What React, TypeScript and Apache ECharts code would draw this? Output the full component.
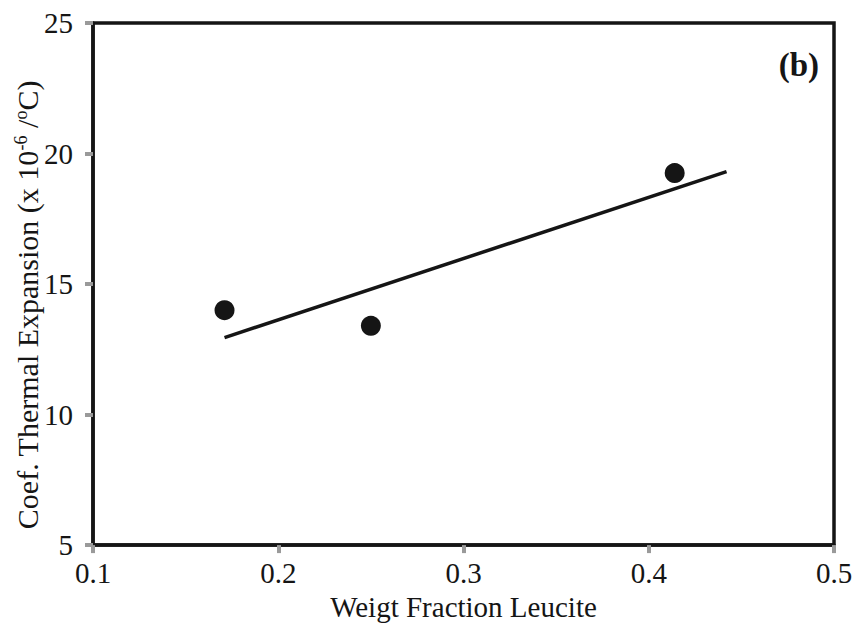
import React, { useEffect, useRef } from "react";
import * as echarts from "echarts";

const pointX = [0.171, 0.25, 0.414];
const pointY = [14.0, 13.4, 19.25];
const fitX = [0.171, 0.442];
const fitY = [12.95, 19.31];
const xTicks = [0.1, 0.2, 0.3, 0.4, 0.5];
const yTicks = [5, 10, 15, 20, 25];

const FONT = "Liberation Serif";
const INK = "#151515";

export default function App() {
  const ref = useRef<HTMLDivElement>(null);
  useEffect(() => {
    if (!ref.current) return;
    const chart = echarts.init(ref.current, null, { renderer: "svg" });
    chart.setOption({
      animation: false,
      backgroundColor: "#ffffff",
      grid: {
        left: 93,
        right: 27,
        top: 23,
        bottom: 77,
        show: true,
        borderColor: INK,
        borderWidth: 3.5,
        backgroundColor: "transparent",
      },
      xAxis: {
        type: "value",
        min: xTicks[0],
        max: xTicks[xTicks.length - 1],
        interval: 0.1,
        name: "Weigt Fraction Leucite",
        nameLocation: "middle",
        nameGap: 39,
        nameTextStyle: { fontFamily: FONT, fontSize: 29, color: INK },
        axisLine: { show: true, lineStyle: { color: INK, width: 3.5 } },
        axisTick: { show: true, length: 8, lineStyle: { color: "#9a9a9a", width: 4 } },
        axisLabel: {
          margin: 13,
          fontFamily: FONT,
          fontSize: 29,
          color: INK,
          formatter: (v: number) => v.toFixed(1),
        },
        splitLine: { show: false },
      },
      yAxis: {
        type: "value",
        min: yTicks[0],
        max: yTicks[yTicks.length - 1],
        interval: 5,
        axisLine: { show: true, lineStyle: { color: INK, width: 3.5 } },
        axisTick: { show: true, length: 8, lineStyle: { color: "#9a9a9a", width: 4 } },
        axisLabel: {
          margin: 20,
          fontFamily: FONT,
          fontSize: 29,
          color: INK,
        },
        splitLine: { show: false },
      },
      graphic: [
        {
          type: "text",
          x: 27,
          y: 305,
          rotation: Math.PI / 2,
          style: {
            text: "Coef. Thermal Expansion (x 10{sup|-6} /{sup|o}C)",
            fontFamily: FONT,
            fontSize: 30,
            fill: INK,
            align: "center",
            verticalAlign: "middle",
            rich: {
              sup: { fontFamily: FONT, fontSize: 18, verticalAlign: "top", fill: INK },
            },
          },
        },
        {
          type: "text",
          x: 819,
          y: 65,
          style: {
            text: "(b)",
            fontFamily: FONT,
            fontSize: 33,
            fontWeight: "bold",
            fill: INK,
            align: "right",
            verticalAlign: "middle",
          },
        },
      ],
      series: [
        {
          type: "line",
          data: fitX.map((x, i) => [x, fitY[i]]),
          showSymbol: false,
          symbol: "none",
          lineStyle: { color: INK, width: 3.5, opacity: 1 },
          z: 2,
        },
        {
          type: "scatter",
          data: pointX.map((x, i) => [x, pointY[i]]),
          symbol: "circle",
          symbolSize: 20,
          itemStyle: { color: INK, opacity: 1 },
          z: 3,
        },
      ],
    });
    return () => chart.dispose();
  }, []);
  return (
    <div
      ref={ref}
      style={{ position: "fixed", left: 0, top: 0, width: 861, height: 626, background: "#fff" }}
    />
  );
}
